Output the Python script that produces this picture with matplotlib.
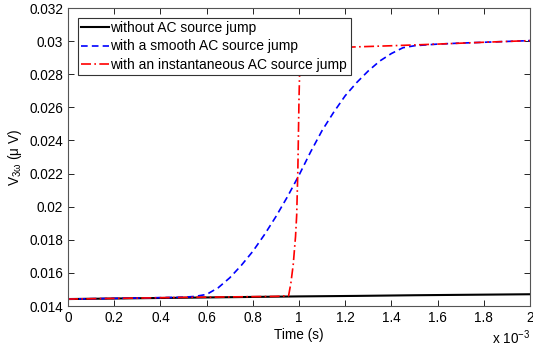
import numpy as np
import matplotlib
matplotlib.use("Agg")
import matplotlib.pyplot as plt
from matplotlib.ticker import FuncFormatter

plt.rcParams['font.family'] = ['Liberation Sans', 'DejaVu Sans']
plt.rcParams['mathtext.fontset'] = 'custom'
plt.rcParams['mathtext.rm'] = 'Liberation Sans'

# time in ms (axis shows x 10^-3 s)
t_black = [0.0, 0.25, 0.5, 0.75, 1.0, 1.25, 1.5, 1.75, 2.0]
v_black = [0.01442, 0.01446, 0.01450, 0.01454, 0.01458, 0.01461, 0.01465, 0.01468, 0.01471]

t_blue = [0.0, 0.3, 0.5, 0.55, 0.6, 0.65, 0.7, 0.75, 0.8, 0.85, 0.9, 0.95, 1.0,
          1.05, 1.1, 1.15, 1.2, 1.25, 1.3, 1.35, 1.4, 1.45, 1.5, 1.6, 1.7, 1.8, 1.9, 2.0]
v_blue = [0.01442, 0.01448, 0.01453, 0.01458, 0.0147, 0.0151, 0.0157, 0.01645, 0.0173,
          0.0183, 0.0194, 0.0206, 0.0219, 0.0233, 0.0246, 0.0257, 0.0267, 0.0275,
          0.0282, 0.0288, 0.02925, 0.0296, 0.02972, 0.02982, 0.02988, 0.02993,
          0.02998, 0.03003]

t_red = [0.0, 0.5, 0.9, 0.955, 0.965, 0.975, 0.985, 0.99, 0.995, 1.0, 1.005,
         1.02, 1.2, 1.4, 1.6, 1.8, 2.0]
v_red = [0.01442, 0.01452, 0.01458, 0.01462, 0.0154, 0.0165, 0.0182, 0.0195,
         0.0222, 0.0265, 0.0295, 0.02958, 0.02963, 0.02972, 0.02982, 0.02993, 0.03003]

labels = ['without AC source jump', 'with a smooth AC source jump',
          'with an instantaneous AC source jump']

fig = plt.figure(figsize=(5.33, 3.49), dpi=100)
ax = fig.add_axes([68/533, 1-306/349, (530-68)/533, (306-8)/349])

ax.plot(np.array(t_black)*1e-3, v_black, color='black', lw=1.5, label=labels[0])
ax.plot(np.array(t_blue)*1e-3, v_blue, color='blue', lw=1.2, ls=(0, (4, 2.5)), label=labels[1])
ax.plot(np.array(t_red)*1e-3, v_red, color='red', lw=1.2, ls=(0, (6, 2, 1, 2)), label=labels[2])

ax.set_xlim(0, 2e-3)
ax.set_ylim(0.014, 0.032)
ax.set_xticks(np.arange(0, 2.01e-3, 0.2e-3))
ax.set_yticks(np.arange(0.014, 0.0321, 0.002))
ax.xaxis.set_major_formatter(FuncFormatter(lambda x, p: f"{x*1e3:g}"))
ax.yaxis.set_major_formatter(FuncFormatter(lambda y, p: f"{round(y, 3):g}"))
ax.tick_params(direction='in', top=True, right=True, labelsize=9.8, length=4, width=0.6)
for s in ax.spines.values():
    s.set_linewidth(0.8)
    s.set_color('#555555')

ax.set_xlabel('Time (s)', fontsize=9.8, labelpad=2)
ax.set_ylabel(r'V$_{\mathregular{3\omega}}$ ($\mathregular{\mu}$ V)', fontsize=9.8, labelpad=4)
ax.text(1.0, -0.105, r'x 10$^{\mathregular{-3}}$', transform=ax.transAxes,
        ha='right', va='center', fontsize=9.8)

leg = ax.legend(loc='upper left', fontsize=10, handlelength=2.0, handletextpad=0.1,
                labelspacing=0.3, borderpad=0.25, borderaxespad=0.7,
                fancybox=False, framealpha=1, edgecolor='#333333')
leg.get_frame().set_linewidth(0.8)

fig.savefig('out.png', dpi=100)
